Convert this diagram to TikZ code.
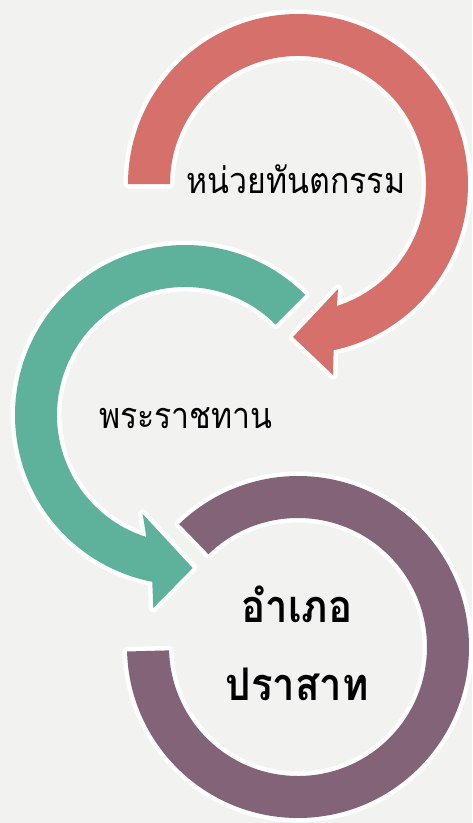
\documentclass[tikz,border=0pt]{standalone}
\usepackage{fontspec}
\newfontfamily\thaifont[Script=Thai,FakeStretch=0.89]{Loma}
\usetikzlibrary{calc}
\definecolor{bgc}{RGB}{242,242,240}
\definecolor{redc}{RGB}{213,112,106}
\definecolor{greenc}{RGB}{94,177,155}
\definecolor{purplec}{RGB}{131,99,119}
\tikzset{
  band/.style={fill=#1, preaction={draw=white, line width=9pt, line join=round}},
  lbl/.style={anchor=base, text=black, inner sep=0pt, font=\thaifont\fontsize{36}{42}\selectfont},
  lblbold/.style={anchor=base, text=black, inner sep=0pt, font=\thaifont\bfseries\fontsize{45}{52}\selectfont}
}
\begin{document}
\begin{tikzpicture}[x=1pt,y=-1pt]
\useasboundingbox (0,0) rectangle (472,823);
\fill[bgc] (0,0) rectangle (472,823);
\coordinate (R) at (298,184);
\coordinate (G) at (185,415);
\coordinate (P) at (298,647);
% purple ring
\path[band=purplec] ($(P)+(178.5:171)$) arc[start angle=178.5, end angle=-134, radius=171]
  -- ($(P)+(-134:129)$) arc[start angle=-134, end angle=178.5, radius=129] -- cycle;
% green arrow
\path[band=greenc] ($(G)+(-45:170)$) arc[start angle=-45, end angle=-258.9, radius=170]
  -- (153.3,608) -- (192.7,568) -- (142.7,514)
  -- ($(G)+(107.6:128)$) arc[start angle=107.6, end angle=315, radius=128] -- cycle;
% red arrow
\path[band=redc] ($(R)+(180:170)$) arc[start angle=180, end angle=437.9, radius=170]
  -- (333,375) -- (293,337) -- (338,289)
  -- ($(R)+(72.3:128)$) arc[start angle=72.3, end angle=-180, radius=128] -- cycle;
\node[lbl] (t1) at (296,193) {หน่วยทันตกรรม};
\node[lbl] (t2) at (186,428) {พระราชทาน};
\node[lblbold] (t3) at (297,622) {อำเภอ};
\node[lblbold] (t4) at (297,700) {ปราสาท};
\end{tikzpicture}
\end{document}
